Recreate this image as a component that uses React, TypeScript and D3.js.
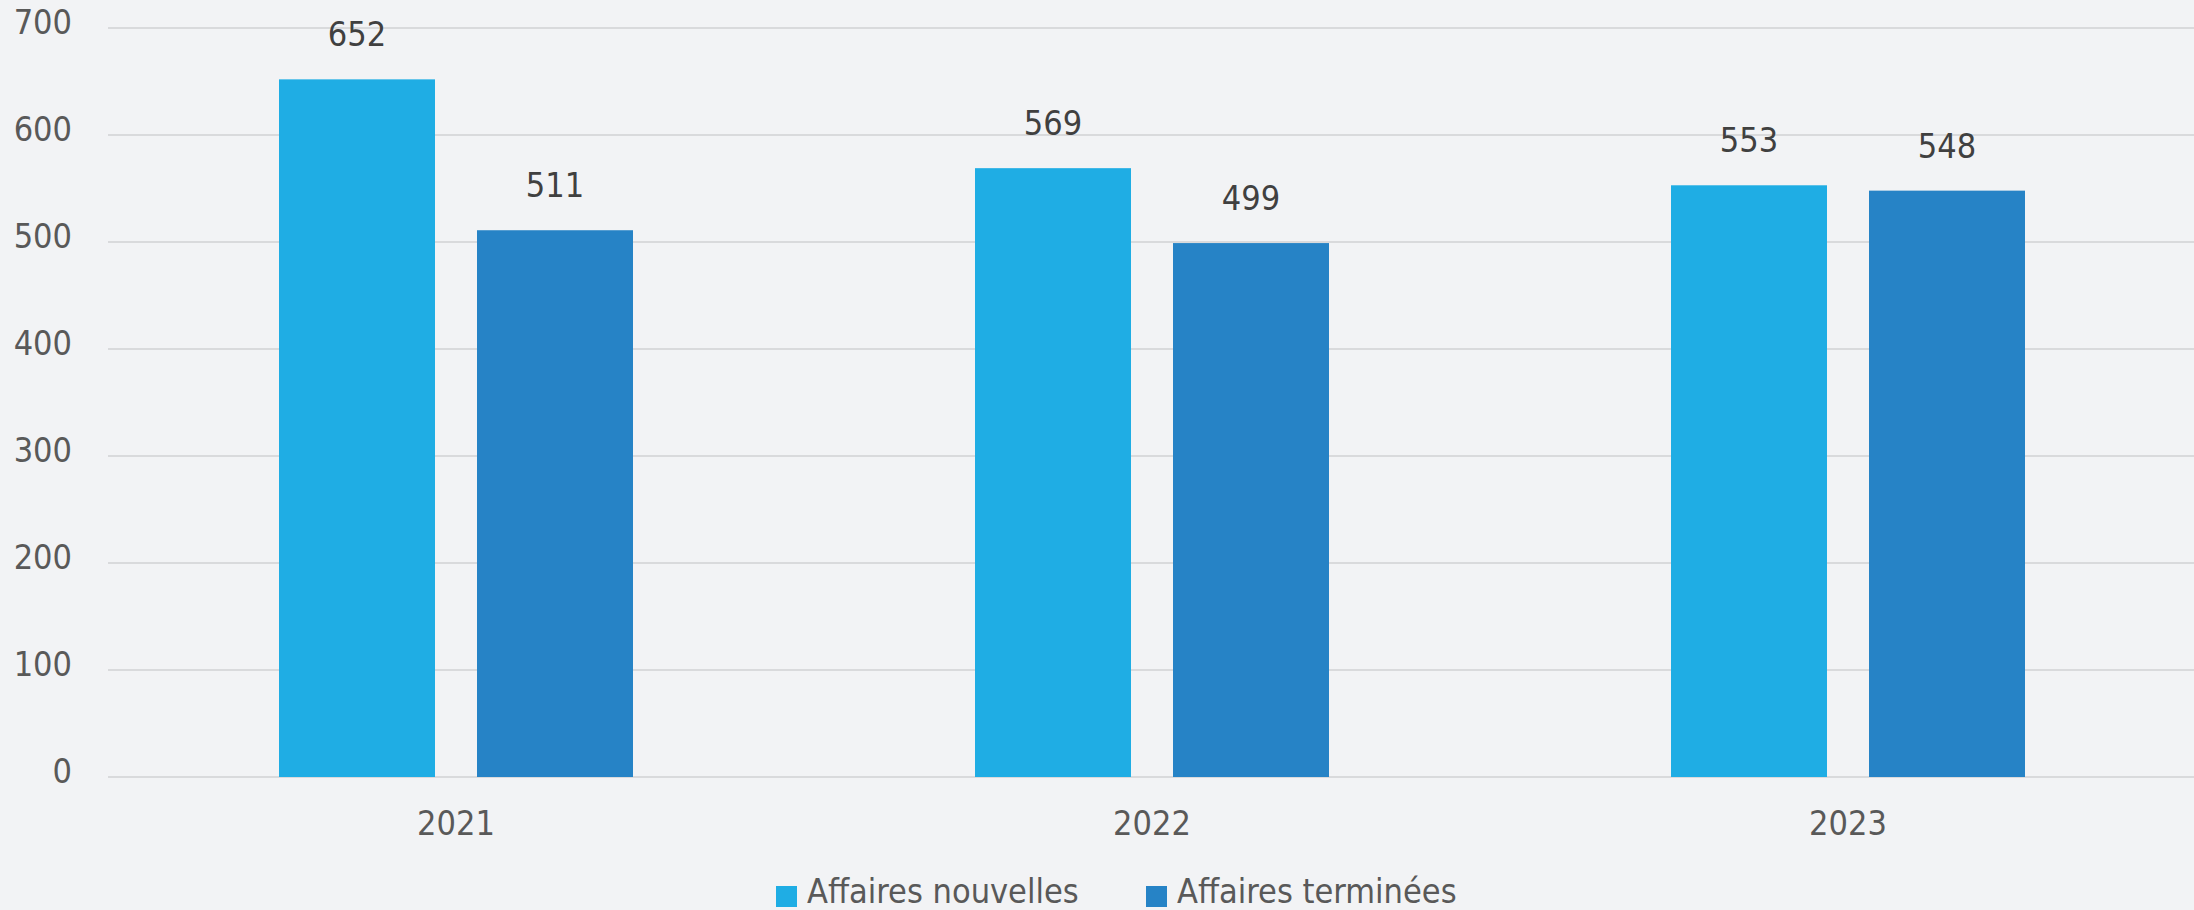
import React from "react";
import * as d3 from "d3";

const categories = ["2021", "2022", "2023"];
const seriesNames = ["Affaires nouvelles", "Affaires terminées"];
const affairesNouvelles = [652, 569, 553];
const affairesTerminees = [511, 499, 548];
const yTicks = [0, 100, 200, 300, 400, 500, 600, 700];
const colors = ["#1FADE4", "#2683C6"];

const W = 2194;
const H = 910;
const FONT = "'DejaVu Sans Condensed', 'DejaVu Sans', Verdana, sans-serif";
const FS = 34;

export default function App() {
  const left = 108;
  const right = 2196;
  const y = d3.scaleLinear().domain([0, 700]).range([777, 28]);
  const x0 = d3.scaleBand<string>().domain(categories).range([left, right]).paddingInner(0).paddingOuter(0);
  const bw = x0.bandwidth();
  const barW = 156;
  const gap = 42;
  const pairW = barW * 2 + gap;
  const x1 = d3
    .scaleOrdinal<number, number>()
    .domain([0, 1])
    .range([(bw - pairW) / 2, (bw - pairW) / 2 + barW + gap]);
  const series = [affairesNouvelles, affairesTerminees];

  const legendX = [776, 1146];

  return (
    <svg
      width={W}
      height={H}
      style={{ position: "absolute", left: 0, top: 0, background: "#F2F3F5", fontStretch: "condensed" }}
      fontFamily={FONT}
    >
      <rect x={0} y={0} width={W} height={H} fill="#F2F3F5" />
      {yTicks.map((t) => (
        <g key={t}>
          <line x1={left} x2={W} y1={y(t)} y2={y(t)} stroke="#D9DADC" strokeWidth={2} />
          <text x={72} y={y(t) + 6} textAnchor="end" fontSize={FS} fill="#595959">
            {t}
          </text>
        </g>
      ))}
      {categories.map((c, i) => (
        <g key={c}>
          {series.map((s, si) => {
            const bx = (x0(c) as number) + x1(si);
            const by = y(s[i]);
            return (
              <g key={si}>
                <rect x={bx} y={by} width={barW} height={y(0) - by} fill={colors[si]} />
                <text x={bx + barW / 2} y={by - 33} textAnchor="middle" fontSize={FS} fill="#404040">
                  {s[i]}
                </text>
              </g>
            );
          })}
          <text
            x={(x0(c) as number) + bw / 2}
            y={835}
            textAnchor="middle"
            fontSize={FS}
            fill="#595959"
          >
            {c}
          </text>
        </g>
      ))}
      {seriesNames.map((n, i) => (
        <g key={n}>
          <rect x={legendX[i]} y={886} width={21} height={21} fill={colors[i]} />
          <text x={legendX[i] + 31} y={903} fontSize={FS} fill="#595959">
            {n}
          </text>
        </g>
      ))}
    </svg>
  );
}
